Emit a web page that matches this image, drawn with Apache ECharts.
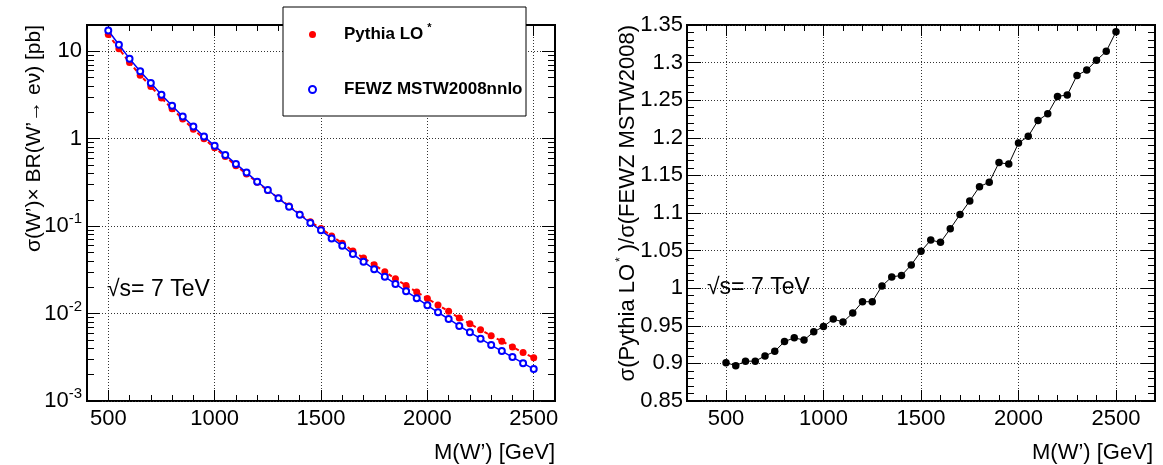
<!DOCTYPE html>
<html>
<head>
<meta charset="utf-8">
<script src="https://cdn.jsdelivr.net/npm/echarts@6/dist/echarts.min.js"></script>
<style>
html,body{margin:0;padding:0;background:#fff;}
#c{width:1163px;height:465px;}
</style>
</head>
<body>
<div id="c"></div>
<script>
// ---------- data ----------
const mass = [500,550,600,650,700,750,800,850,900,950,1000,1050,1100,1150,1200,1250,1300,1350,1400,1450,1500,1550,1600,1650,1700,1750,1800,1850,1900,1950,2000,2050,2100,2150,2200,2250,2300,2350,2400,2450,2500];
const pythiaLO = [15.6,10.7,7.44,5.34,3.96,2.92,2.21,1.68,1.285,0.999,0.788,0.626,0.492,0.396,0.317,0.256,0.210,0.170,0.137,0.112,0.0939,0.0771,0.0638,0.0519,0.0432,0.0362,0.0301,0.0250,0.0210,0.0176,0.0149,0.0125,0.0106,0.0089,0.00767,0.00652,0.00559,0.00482,0.00416,0.00358,0.00312];
const fewz = [17.3,11.9,8.24,5.91,4.35,3.19,2.38,1.80,1.38,1.06,0.83,0.653,0.515,0.41,0.323,0.259,0.208,0.167,0.135,0.109,0.0895,0.0724,0.0596,0.0479,0.0391,0.0322,0.0263,0.0218,0.0180,0.0150,0.01244,0.01034,0.00867,0.00721,0.00611,0.00516,0.00436,0.00372,0.00318,0.00271,0.00232];
const ratio = [0.901,0.897,0.903,0.903,0.910,0.916,0.929,0.934,0.931,0.942,0.949,0.959,0.955,0.967,0.982,0.982,1.003,1.015,1.017,1.031,1.049,1.064,1.061,1.079,1.098,1.116,1.135,1.141,1.167,1.165,1.193,1.202,1.223,1.232,1.255,1.257,1.283,1.290,1.303,1.315,1.341];
const xMajorTicks = [500,1000,1500,2000,2500];
const logMajorTicks = [0.001,0.01,0.1,1,10];
const seriesNames = ['Pythia LO*','FEWZ MSTW2008nnlo'];
const ratioName = 'ratio';

// ---------- helpers ----------
const FONT = 'Liberation Sans';
const logMinorTicks = [];
for (let e = -3; e <= 1; e++) {
  for (let k = 2; k <= 9; k++) {
    const v = +(k * Math.pow(10, e)).toPrecision(3);
    if (v <= 20) logMinorTicks.push(v);
  }
}
const gridLine = {show:true, lineStyle:{color:'#333', type:[1,2], width:1}};
const tickLine = {color:'#000', width:1};

function xAxes(grid, min, max) {
  const base = {gridIndex:grid, type:'value', min:min, max:max, axisLine:{show:false, onZero:false}};
  return [
    Object.assign({}, base, {position:'bottom',
      axisTick:{show:true, inside:true, length:11, customValues:xMajorTicks, lineStyle:tickLine},
      axisLabel:{show:true, customValues:xMajorTicks, formatter:v => String(v), fontSize:22, fontFamily:FONT, color:'#000', margin:7},
      splitLine:gridLine}),
    Object.assign({}, base, {position:'bottom', interval:100,
      axisTick:{show:true, inside:true, length:6, lineStyle:tickLine},
      axisLabel:{show:false}, splitLine:{show:false}}),
    Object.assign({}, base, {position:'top',
      axisTick:{show:true, inside:true, length:11, customValues:xMajorTicks, lineStyle:tickLine},
      axisLabel:{show:false}, splitLine:{show:false}}),
    Object.assign({}, base, {position:'top', interval:100,
      axisTick:{show:true, inside:true, length:6, lineStyle:tickLine},
      axisLabel:{show:false}, splitLine:{show:false}})
  ];
}

function logLabel(v) {
  const e = Math.round(Math.log10(v));
  if (e === 0) return '1';
  if (e === 1) return '10';
  return '10{s|' + e + '}';
}

const logBase = {gridIndex:0, type:'log', logBase:10, min:0.001, max:20, axisLine:{show:false, onZero:false}};
const yAxes = [
  Object.assign({}, logBase, {position:'left',
    axisTick:{show:true, inside:true, length:13, customValues:logMajorTicks, lineStyle:tickLine},
    axisLabel:{show:true, customValues:logMajorTicks, formatter:logLabel, fontSize:22, fontFamily:FONT, color:'#000', margin:5,
      rich:{s:{fontSize:15, fontFamily:FONT, color:'#000', padding:[0,0,14,0]}}},
    splitLine:gridLine}),
  Object.assign({}, logBase, {position:'left',
    axisTick:{show:true, inside:true, length:7, customValues:logMinorTicks, lineStyle:tickLine},
    axisLabel:{show:false}, splitLine:{show:false}}),
  Object.assign({}, logBase, {position:'right',
    axisTick:{show:true, inside:true, length:13, customValues:logMajorTicks, lineStyle:tickLine},
    axisLabel:{show:false}, splitLine:{show:false}}),
  Object.assign({}, logBase, {position:'right',
    axisTick:{show:true, inside:true, length:7, customValues:logMinorTicks, lineStyle:tickLine},
    axisLabel:{show:false}, splitLine:{show:false}}),
  {gridIndex:1, type:'value', position:'left', min:0.85, max:1.35, interval:0.05,
    axisLine:{show:false, onZero:false},
    axisTick:{show:true, inside:true, length:14, lineStyle:tickLine},
    minorTick:{show:true, splitNumber:5, length:7, lineStyle:tickLine},
    axisLabel:{show:true, fontSize:22, fontFamily:FONT, color:'#000', margin:4, showMinLabel:true, showMaxLabel:true},
    splitLine:gridLine},
  {gridIndex:1, type:'value', position:'right', min:0.85, max:1.35, interval:0.05,
    axisLine:{show:false, onZero:false},
    axisTick:{show:true, inside:true, length:14, lineStyle:tickLine},
    minorTick:{show:true, splitNumber:5, length:7, lineStyle:tickLine},
    axisLabel:{show:false}, splitLine:{show:false}}
];

const pairs = (xs, ys) => xs.map((x, i) => [x, ys[i]]);

const option = {
  animation:false,
  backgroundColor:'#fff',
  grid:[
    {left:87, top:25, width:468, height:376, show:true, borderColor:'#000', borderWidth:2, backgroundColor:'transparent', containLabel:false},
    {left:687, top:25, width:468, height:376, show:true, borderColor:'#000', borderWidth:2, backgroundColor:'transparent', containLabel:false}
  ],
  xAxis: xAxes(0, 400, 2600).concat(xAxes(1, 300, 2700)),
  yAxis: yAxes,
  legend:{
    show:true, orient:'vertical', left:308, top:22, padding:0,
    itemWidth:7, itemHeight:7, itemGap:35, selectedMode:false, z:20,
    data:[{name:seriesNames[0], icon:'circle'},{name:seriesNames[1], icon:'emptyCircle'}],
    formatter: n => n === seriesNames[0] ? 'Pythia LO{s|*}' : n,
    textStyle:{fontSize:17, fontWeight:'bold', fontFamily:FONT, color:'#000', lineHeight:20, padding:[0,0,0,23],
      rich:{s:{fontSize:11, fontWeight:'bold', fontFamily:FONT, color:'#000', padding:[0,0,14,4]}}}
  },
  series:[
    {name:seriesNames[0], type:'line', xAxisIndex:0, yAxisIndex:0, data:pairs(mass, pythiaLO),
      symbol:'circle', symbolSize:7, itemStyle:{color:'#ff0000'},
      lineStyle:{color:'#ff0000', width:2, type:[4,3]}, z:3},
    {name:seriesNames[1], type:'line', xAxisIndex:0, yAxisIndex:0, data:pairs(mass, fewz),
      symbol:'emptyCircle', symbolSize:6, itemStyle:{color:'#0000ff', borderWidth:1},
      lineStyle:{color:'#0000ff', width:1.5}, z:4},
    {name:ratioName, type:'line', xAxisIndex:4, yAxisIndex:4, data:pairs(mass, ratio),
      symbol:'circle', symbolSize:7.5, itemStyle:{color:'#000'},
      lineStyle:{color:'#000', width:1}, z:3}
  ],
  graphic:[
    {type:'rect', z:15, shape:{x:283, y:7, width:243, height:109}, style:{fill:'#fff', stroke:'#000', lineWidth:1}},
    {type:'text', z:15, x:34, y:25, rotation:Math.PI/2,
      style:{text:'σ(W’)× BR(W’→ eν) [pb]', fontSize:21, fontFamily:FONT, fill:'#000', textAlign:'right', textVerticalAlign:'middle'}},
    {type:'text', z:15, x:628, y:25, rotation:Math.PI/2,
      style:{text:'σ(Pythia LO{s|*})/σ(FEWZ MSTW2008)', fontSize:22, fontFamily:FONT, fill:'#000', textAlign:'right', textVerticalAlign:'middle',
        rich:{s:{fontSize:12, fontFamily:FONT, fill:'#000', padding:[0,6,14,2]}}}},
    {type:'text', z:15, x:555, y:453, style:{text:'M(W’) [GeV]', fontSize:22, fontFamily:FONT, fill:'#000', textAlign:'right', textVerticalAlign:'middle'}},
    {type:'text', z:15, x:1153, y:453, style:{text:'M(W’) [GeV]', fontSize:22, fontFamily:FONT, fill:'#000', textAlign:'right', textVerticalAlign:'middle'}},
    {type:'text', z:15, x:107, y:290, style:{text:'√s= 7 TeV', fontSize:23, fontFamily:FONT, fill:'#000', textAlign:'left', textVerticalAlign:'middle'}},
    {type:'text', z:15, x:707, y:288, style:{text:'√s= 7 TeV', fontSize:23, fontFamily:FONT, fill:'#000', textAlign:'left', textVerticalAlign:'middle'}}
  ]
};

const chart = echarts.init(document.getElementById('c'), null, {renderer:'canvas'});
chart.setOption(option);
</script>
</body>
</html>
